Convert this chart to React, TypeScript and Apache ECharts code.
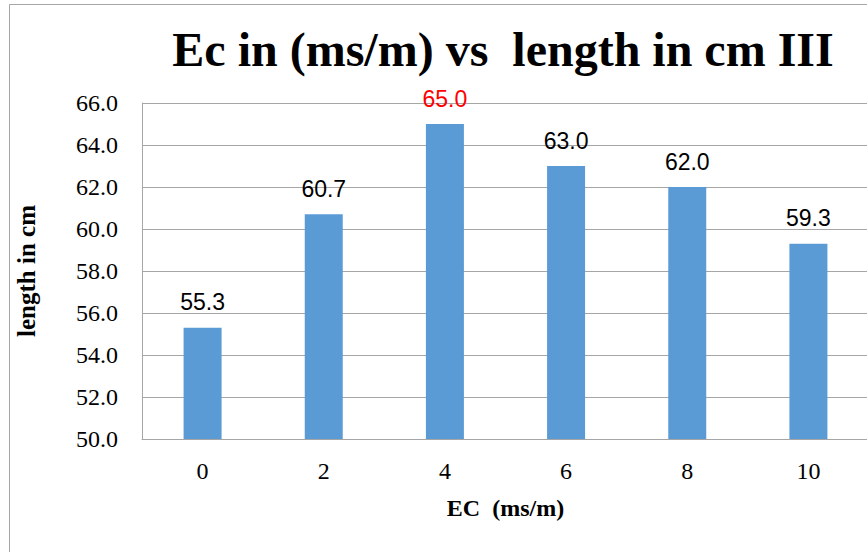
import React, { useEffect, useRef } from "react";
import * as echarts from "echarts";

const categories = ["0", "2", "4", "6", "8", "10"];
const lengthValues = [55.3, 60.7, 65.0, 63.0, 62.0, 59.3];
const labelColors = ["#000000", "#000000", "#ff0000", "#000000", "#000000", "#000000"];
const yMin = 50;
const yMax = 66;
const yInterval = 2;
const titleText = "Ec in (ms/m) vs  length in cm III";
const xName = "EC  (ms/m)";
const yName = "length in cm";

const SERIF = "'Liberation Serif', 'Times New Roman', serif";
const SANS = "'Liberation Sans', Arial, sans-serif";
const GRID_COLOR = "#a6a6a6";

export default function App() {
  const ref = useRef<HTMLDivElement>(null);

  useEffect(() => {
    if (!ref.current) return;
    const chart = echarts.init(ref.current, null, { renderer: "svg" });
    chart.setOption({
      animation: false,
      backgroundColor: "#ffffff",
      title: {
        text: titleText,
        left: 498,
        textAlign: "center",
        top: 20,
        textStyle: {
          fontFamily: SERIF,
          fontSize: 48,
          fontWeight: "bold",
          color: "#000000",
        },
      },
      graphic: [
        {
          type: "rect",
          shape: { x: 9.5, y: 4.5, width: 880, height: 560 },
          style: { fill: "none", stroke: GRID_COLOR, lineWidth: 1 },
          silent: true,
          z: 100,
        },
      ],
      grid: { left: 142, top: 103, right: 11, bottom: 121, containLabel: false },
      xAxis: {
        type: "category",
        data: categories,
        name: xName,
        nameLocation: "middle",
        nameGap: 57,
        nameTextStyle: {
          fontFamily: SERIF,
          fontSize: 24,
          fontWeight: "bold",
          color: "#000000",
        },
        axisLine: { show: true, lineStyle: { color: GRID_COLOR, width: 1 } },
        axisTick: { show: false },
        axisLabel: {
          margin: 20,
          fontFamily: SERIF,
          fontSize: 24,
          color: "#000000",
        },
        splitLine: { show: false },
      },
      yAxis: {
        type: "value",
        min: yMin,
        max: yMax,
        interval: yInterval,
        name: yName,
        nameLocation: "middle",
        nameRotate: 90,
        nameGap: 103,
        nameTextStyle: {
          fontFamily: SERIF,
          fontSize: 25,
          fontWeight: "bold",
          color: "#000000",
        },
        axisLine: { show: true, lineStyle: { color: GRID_COLOR, width: 1 } },
        axisTick: { show: false },
        axisLabel: {
          margin: 24,
          fontFamily: SERIF,
          fontSize: 24,
          color: "#000000",
          formatter: (v: number) => v.toFixed(1),
        },
        splitLine: { show: true, lineStyle: { color: GRID_COLOR, width: 1 } },
      },
      series: [
        {
          type: "bar",
          barWidth: 38,
          data: lengthValues.map((v, i) => ({
            value: v,
            label: { color: labelColors[i] },
          })),
          itemStyle: { color: "#5b9bd5" },
          label: {
            show: true,
            position: "top",
            distance: 14,
            fontFamily: SANS,
            fontSize: 23,
            formatter: (p: any) => Number(p.value).toFixed(1),
          },
        },
      ],
    });
    return () => chart.dispose();
  }, []);

  return (
    <div
      style={{
        position: "fixed",
        left: 0,
        top: 0,
        width: 867,
        height: 552,
        overflow: "hidden",
        background: "#ffffff",
      }}
    >
      <div ref={ref} style={{ width: 880, height: 560 }} />
    </div>
  );
}
